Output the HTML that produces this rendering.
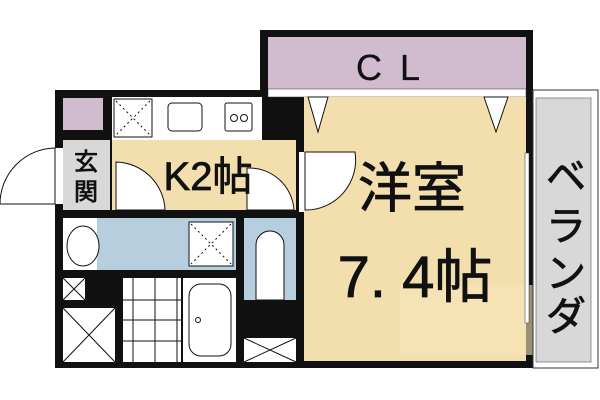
<!DOCTYPE html>
<html><head><meta charset="utf-8"><style>
html,body{margin:0;padding:0;background:#fff;width:600px;height:400px;overflow:hidden}
text{font-family:"Liberation Sans","Noto Sans CJK JP",sans-serif;fill:#111;stroke:#111;stroke-width:0.8}
</style></head><body>
<svg width="600" height="400" viewBox="0 0 600 400" xmlns="http://www.w3.org/2000/svg">
<rect x="260" y="30" width="273" height="70" fill="#111"/>
<rect x="55" y="90" width="478" height="278" fill="#111"/>
<rect x="268" y="37" width="258" height="52" fill="#d1bccf"/>
<rect x="268" y="89" width="258" height="8" fill="#fff" stroke="#333" stroke-width="0.5"/>
<text x="397" y="80" font-size="36" text-anchor="middle" letter-spacing="18" style="stroke-width:0.3">CL</text>
<rect x="304" y="97" width="222" height="264" fill="#f3dfae"/>
<rect x="400" y="285" width="155" height="70" fill="#f7e6b8" opacity="0.6"/>
<polygon points="308,97 328,97 318,132" fill="#fff" stroke="#111"/>
<polygon points="484,97 508,97 496,132" fill="#fff" stroke="#111"/>
<rect x="299" y="152" width="6" height="60" fill="#fff"/>
<path d="M305,152 L355,152 A50,50 0 0 1 305,210 Z" fill="#fff" stroke="#111"/>
<rect x="525" y="153" width="4" height="170" fill="#fff" stroke="#333" stroke-width="0.5"/>
<text x="412" y="207" font-size="54" text-anchor="middle">洋室</text>
<text x="415" y="297" font-size="58" text-anchor="middle">7. 4帖</text>
<rect x="533" y="90" width="65" height="278" fill="#fff" stroke="#333"/>
<rect x="536" y="98" width="55" height="264" fill="#d8d8d8" stroke="#555" stroke-width="0.6"/>
<text font-size="40" x="566" y="190" text-anchor="middle">ベ</text>
<text font-size="40" x="566" y="240" text-anchor="middle">ラ</text>
<text font-size="40" x="566" y="287" text-anchor="middle">ン</text>
<text font-size="40" x="566" y="330" text-anchor="middle">ダ</text>
<rect x="63" y="98" width="40" height="32" fill="#d1bccf"/>
<rect x="63" y="140" width="47" height="70" fill="#d8d8d8"/>
<text x="86" y="170" font-size="24" text-anchor="middle">玄</text>
<text x="86" y="200" font-size="24" text-anchor="middle">関</text>
<rect x="55" y="148" width="8" height="56" fill="#fff"/>
<path d="M55,148 A56,56 0 0 0 0,204 L55,204 Z" fill="#fff" stroke="#111"/>
<rect x="112" y="97" width="150" height="43" fill="#fff"/>
<rect x="114" y="99" width="38" height="38" fill="#fff" stroke="#111"/>
<path d="M116,101 L150,135 M150,101 L116,135" stroke="#111" stroke-dasharray="2,3"/>
<rect x="168" y="103" width="34" height="28" rx="4" fill="#fff" stroke="#111"/>
<rect x="225" y="103" width="27" height="28" rx="2" fill="#fff" stroke="#111"/>
<circle cx="234" cy="118" r="3.5" fill="none" stroke="#111"/><circle cx="244" cy="118" r="3.5" fill="none" stroke="#111"/>
<rect x="112" y="140" width="184" height="70" fill="#f3dfae"/>
<path d="M116,162 A50,50 0 0 1 165,210 L116,210 Z" fill="#fff" stroke="#111"/>
<path d="M247,168 A45,45 0 0 1 294,210 L247,210 Z" fill="#fff" stroke="#111"/>
<text x="208" y="190" font-size="40" text-anchor="middle">K2帖</text>
<rect x="63" y="218" width="173" height="52" fill="#b6cedd"/>
<rect x="63" y="218" width="34" height="52" fill="#fff"/>
<ellipse cx="83" cy="246" rx="16" ry="20" fill="#fff" stroke="#111"/>
<rect x="189" y="222" width="44" height="44" fill="#fff" stroke="#111"/>
<path d="M191,224 L231,264 M231,224 L191,264" stroke="#111" stroke-dasharray="2,3"/>
<rect x="244" y="218" width="52" height="82" fill="#b6cedd"/>
<path d="M256,300 L256,245 A14,14 0 0 1 284,245 L284,300 Z" fill="#fff" stroke="#111"/>
<rect x="63" y="278" width="22" height="22" fill="#fff"/><path d="M63,278 L85,300 M85,278 L63,300" stroke="#111"/>
<rect x="63" y="308" width="52" height="54" fill="#fff"/><path d="M63,308 L115,362 M115,308 L63,362" stroke="#111"/>
<rect x="123" y="278" width="58" height="84" fill="#fff"/>
<path d="M123,300 H181 M123,320 H181 M123,341 H181 M133,278 V362 M155,278 V362 M177,278 V362" stroke="#111"/>
<rect x="183" y="278" width="53" height="84" fill="#fff"/>
<rect x="189" y="284" width="42" height="72" rx="12" fill="#fff" stroke="#111"/>
<circle cx="198" cy="320" r="2.5" fill="none" stroke="#111"/>
<rect x="244" y="338" width="52" height="24" fill="#fff"/><path d="M244,338 L296,362 M296,338 L244,362" stroke="#111"/>
</svg>
</body></html>
